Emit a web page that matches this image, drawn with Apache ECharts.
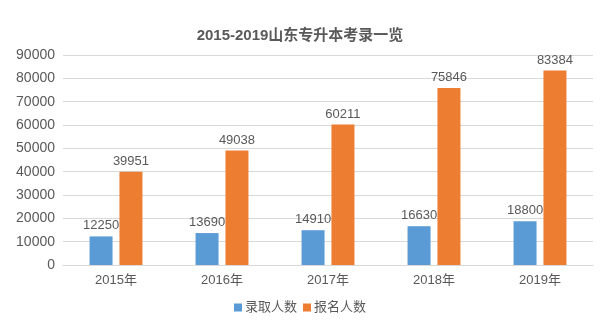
<!DOCTYPE html>
<html>
<head>
<meta charset="utf-8">
<script src="https://cdn.jsdelivr.net/npm/echarts@6/dist/echarts.min.js"></script>
<style>
html,body{margin:0;padding:0;background:#fff;}
#chart{width:600px;height:329px;}
</style>
</head>
<body>
<div id="chart"></div>
<script>
// 山东专升本 2015-2019 录取与报名人数
const years = ['2015年', '2016年', '2017年', '2018年', '2019年'];
const admitted = [12250, 13690, 14910, 16630, 18800];
const applicants = [39951, 49038, 60211, 75846, 83384];

const textColor = '#595959';
const fontFamily = '"Liberation Sans", Arial, "Noto Sans CJK SC", sans-serif';

const chart = echarts.init(document.getElementById('chart'), null, { renderer: 'canvas' });

const labelStyle = {
  show: true,
  position: 'top',
  color: textColor,
  fontSize: 13,
  fontFamily: fontFamily,
  distance: 4
};

chart.setOption({
  animation: false,
  backgroundColor: '#ffffff',
  title: {
    text: '2015-2019山东专升本考录一览',
    left: 'center',
    top: 23,
    textStyle: { color: textColor, fontSize: 15, fontWeight: 'bold', fontFamily: fontFamily }
  },
  legend: {
    bottom: 10,
    left: 'center',
    itemWidth: 8,
    itemHeight: 8,
    itemGap: 6,
    icon: 'rect',
    textStyle: { color: textColor, fontSize: 13, fontFamily: fontFamily, padding: [0, 0, 0, -2] },
    data: ['录取人数', '报名人数']
  },
  grid: { left: 63, right: 7, top: 55, bottom: 64, containLabel: false },
  xAxis: {
    type: 'category',
    data: years,
    axisLine: { lineStyle: { color: '#d9d9d9' } },
    axisTick: { show: false },
    axisLabel: { color: textColor, fontSize: 13, fontFamily: fontFamily, margin: 9 }
  },
  yAxis: {
    type: 'value',
    min: 0,
    max: 90000,
    interval: 10000,
    axisLine: { show: false },
    axisTick: { show: false },
    axisLabel: {
      color: textColor,
      fontSize: 14,
      fontFamily: fontFamily,
      margin: 8,
      formatter: function (v) { return String(v); }
    },
    splitLine: { lineStyle: { color: '#d9d9d9' } }
  },
  series: [
    {
      name: '录取人数',
      type: 'bar',
      data: admitted,
      barWidth: 23,
      barGap: '30%',
      itemStyle: { color: '#5b9bd5' },
      label: labelStyle
    },
    {
      name: '报名人数',
      type: 'bar',
      data: applicants,
      barWidth: 23,
      itemStyle: { color: '#ed7d31' },
      label: labelStyle
    }
  ]
});
</script>
</body>
</html>
